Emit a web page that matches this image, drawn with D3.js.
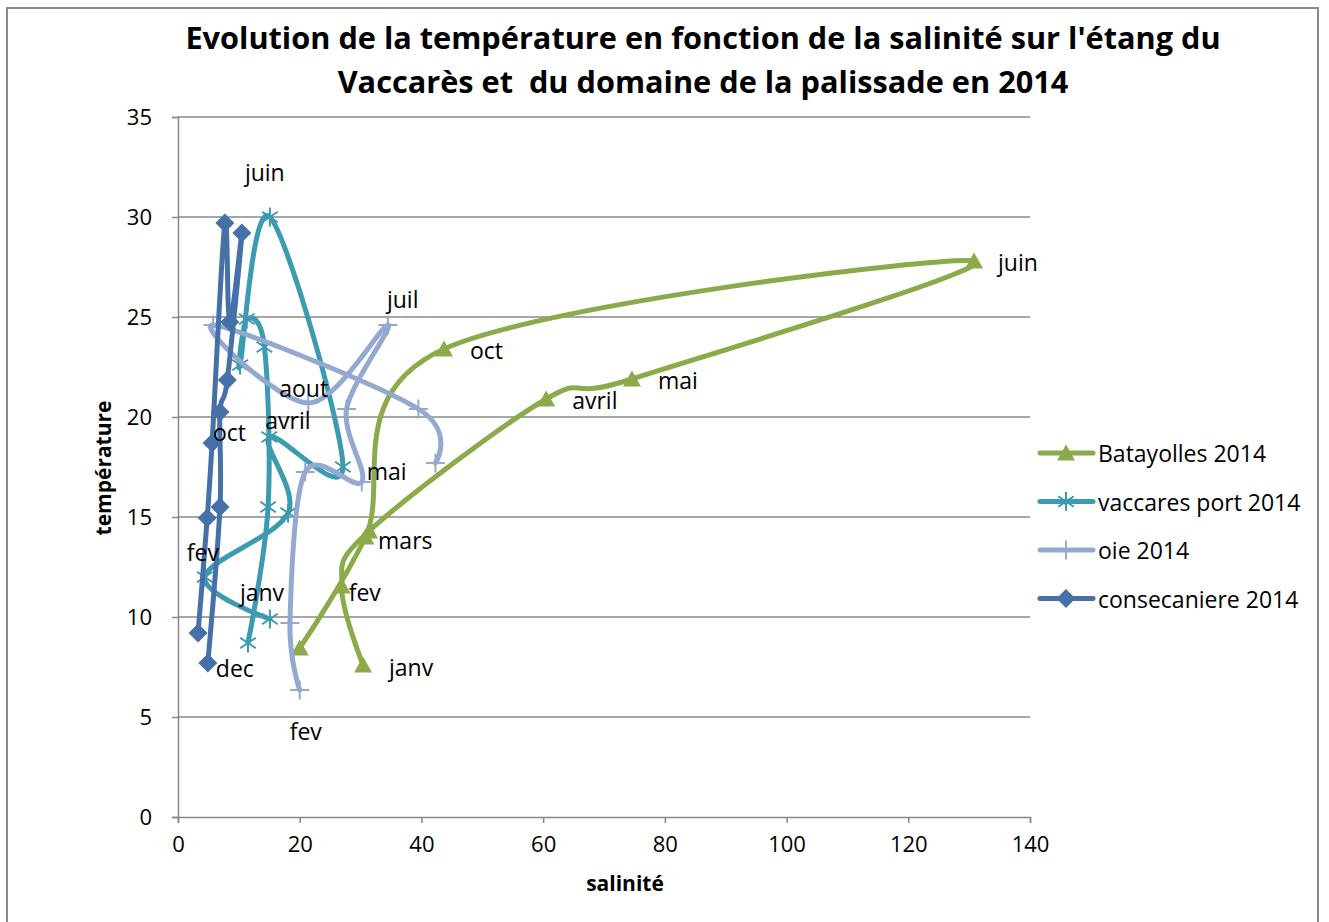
<!DOCTYPE html>
<html><head><meta charset="utf-8">
<script src="https://cdn.jsdelivr.net/npm/d3@7"></script>
<style>body{margin:0;background:#fff;}svg{display:block;font-family:"Open Sans",sans-serif;}</style>
</head><body>
<svg id="chart" width="1329" height="922"></svg>
<script>
// ---- data ----
const titleLines = ["Evolution de la température en fonction de la salinité sur l'étang du", "Vaccarès et  du domaine de la palissade en 2014"];
const xTicks = [0, 20, 40, 60, 80, 100, 120, 140];
const yTicks = [0, 5, 10, 15, 20, 25, 30, 35];
const xTitle = "salinité";
const yTitle = "température";
const seriesNames = ["Batayolles 2014", "vaccares port 2014", "oie 2014", "consecaniere 2014"];

const batMonths = ["janv","fev","mars","avril","mai","juin","oct","nov","dec"];
const batSal    = [30.4, 26.9, 31.4, 60.5, 74.6, 130.8, 43.7, 30.8, 20.0];
const batTemp   = [7.6, 11.55, 14.3, 20.9, 21.9, 27.8, 23.4, 14.0, 8.45];
const batLabels = ["janv","fev","mars","avril","mai","juin","oct","",""];

const vacMonths = ["janv","fev","mars","avril","mai","juin","juil","aout","sept","nov","dec"];
const vacSal    = [15.1, 4.4, 18.1, 15.0, 27.1, 15.1, 10.2, 11.3, 14.2, 14.8, 11.5];
const vacTemp   = [9.9, 12.0, 15.2, 19.0, 17.5, 30.0, 22.6, 24.9, 23.5, 15.5, 8.7];
const vacLabels = ["janv","fev","","avril","","juin","","","","",""];

const oieMonths = ["fev","mars","avril","mai","juin","juil","aout","sept","oct","nov"];
const oieSal    = [20.0, 18.4, 20.9, 30.2, 27.7, 34.5, 21.4, 5.75, 39.5, 42.3];
const oieTemp   = [6.35, 9.7, 17.25, 16.75, 20.4, 24.6, 20.7, 24.6, 20.4, 17.7];
const oieLabels = ["fev","","","mai","","juil","aout","","",""];

const conMonths = ["janv","fev","mars","avril","mai","juin","juil","oct","nov","dec"];
const conSal    = [3.3, 4.8, 5.6, 7.7, 8.5, 10.5, 8.1, 6.9, 6.9, 4.9];
const conTemp   = [9.2, 14.95, 18.7, 29.7, 24.75, 29.2, 21.85, 20.25, 15.5, 7.7];
const conLabels = ["","","","","","","","oct","","dec"];

// ---- styles (not data) ----
const colors = ["#8BAA4A", "#3C9AB1", "#94A9CF", "#4570A8"];
const markers = ["triangle", "asterisk", "plus", "diamond"];
// label offsets in pixels per series (by month)
const labelOffsets = [
  {janv:[26,2], fev:[7,6], mars:[9,9], avril:[26,1], mai:[26,1], juin:[24,1], oct:[26,1]},
  {janv:[-30,-27], fev:[-18,-25], avril:[-4,-17], juin:[-25,-45]},
  {fev:[-10,41], mai:[5,-11], juil:[-1,-26], aout:[-29,-15]},
  {oct:[-7,20], dec:[8,5]}
];

const series = [
  {name: seriesNames[0], sal: batSal, temp: batTemp, labels: batLabels, months: batMonths},
  {name: seriesNames[1], sal: vacSal, temp: vacTemp, labels: vacLabels, months: vacMonths},
  {name: seriesNames[2], sal: oieSal, temp: oieTemp, labels: oieLabels, months: oieMonths},
  {name: seriesNames[3], sal: conSal, temp: conTemp, labels: conLabels, months: conMonths}
];

const svg = d3.select("#chart");
const plot = {left: 178, right: 1030, top: 117, bottom: 817};
const x = d3.scaleLinear().domain([0, 140]).range([plot.left, plot.right]);
const y = d3.scaleLinear().domain([0, 35]).range([plot.bottom, plot.top]);

// outer border
svg.append("rect").attr("x", 7).attr("y", 8).attr("width", 1311).attr("height", 940)
  .attr("fill", "#fff").attr("stroke", "#8a8a8a").attr("stroke-width", 2);

// title
svg.append("g").selectAll("text").data(titleLines).join("text")
  .attr("x", 703).attr("y", (d, i) => 37 + i * 44)
  .attr("text-anchor", "middle").attr("dominant-baseline", "central")
  .attr("font-weight", "bold").attr("font-size", 30.7).attr("fill", "#000")
  .style("white-space", "pre")
  .text(d => d);

// gridlines
svg.append("g").selectAll("line").data(yTicks.filter(v => v > 0)).join("line")
  .attr("x1", plot.left).attr("x2", plot.right)
  .attr("y1", d => y(d)).attr("y2", d => y(d))
  .attr("stroke", "#888").attr("stroke-width", 1.5);

// axes
const gx = svg.append("g").attr("transform", `translate(0,${plot.bottom})`)
  .call(d3.axisBottom(x).tickValues(xTicks).tickSize(6).tickPadding(9).tickFormat(d3.format("d")));
const gy = svg.append("g").attr("transform", `translate(${plot.left},0)`)
  .call(d3.axisLeft(y).tickValues(yTicks).tickSize(6).tickPadding(20).tickFormat(d3.format("d")));
[gx, gy].forEach(g => {
  g.select(".domain").attr("stroke", "#888").attr("stroke-width", 1.5);
  g.selectAll(".tick line").attr("stroke", "#888").attr("stroke-width", 1.5);
  g.selectAll(".tick text").attr("font-size", 22).attr("fill", "#000").attr("font-family", "Open Sans");
});
gx.selectAll(".tick text").attr("dy", "0.9em");
gy.selectAll(".tick text").attr("dy", "0.35em");

// axis titles
svg.append("text").attr("x", 625).attr("y", 883).attr("text-anchor", "middle")
  .attr("dominant-baseline", "central").attr("font-weight", "bold").attr("font-size", 21).text(xTitle);
svg.append("text").attr("transform", "translate(103,468) rotate(-90)").attr("text-anchor", "middle")
  .attr("dominant-baseline", "central").attr("font-weight", "bold").attr("font-size", 21).text(yTitle);

function drawMarker(g, type, cx, cy, color) {
  if (type === "triangle") {
    g.append("path").attr("d", `M${cx},${cy-8.5}L${cx+9},${cy+7.5}L${cx-9},${cy+7.5}Z`).attr("fill", color);
  } else if (type === "diamond") {
    g.append("path").attr("d", `M${cx},${cy-9.5}L${cx+9.5},${cy}L${cx},${cy+9.5}L${cx-9.5},${cy}Z`).attr("fill", color);
  } else if (type === "asterisk") {
    const r = 9.5, a = r * 0.82, b = r * 0.55;
    g.append("path").attr("d", `M${cx},${cy-r}L${cx},${cy+r}M${cx-a},${cy-b}L${cx+a},${cy+b}M${cx-a},${cy+b}L${cx+a},${cy-b}`)
      .attr("stroke", color).attr("stroke-width", 2).attr("fill", "none");
  } else if (type === "plus") {
    const r = 9.5;
    g.append("path").attr("d", `M${cx},${cy-r}L${cx},${cy+r}M${cx-r},${cy}L${cx+r},${cy}`)
      .attr("stroke", color).attr("stroke-width", 2).attr("fill", "none");
  }
}

const line = d3.line().x(d => x(d[0])).y(d => y(d[1])).curve(d3.curveCardinal.tension(0));

series.forEach((s, si) => {
  const pts = s.sal.map((v, i) => [v, s.temp[i]]);
  const g = svg.append("g");
  g.append("path").datum(pts).attr("d", line).attr("fill", "none")
    .attr("stroke", colors[si]).attr("stroke-width", 5)
    .attr("stroke-linecap", "round").attr("stroke-linejoin", "round");
  pts.forEach(p => drawMarker(g, markers[si], x(p[0]), y(p[1]), colors[si]));
});

// data labels
series.forEach((s, si) => {
  s.labels.forEach((lab, i) => {
    if (!lab) return;
    const off = labelOffsets[si][lab] || [8, 0];
    svg.append("text").attr("x", x(s.sal[i]) + off[0]).attr("y", y(s.temp[i]) + off[1])
      .attr("dominant-baseline", "central").attr("font-size", 23).attr("fill", "#000").text(lab);
  });
});

// legend
const leg = svg.append("g");
series.forEach((s, si) => {
  const ly = 453 + si * 48.5;
  leg.append("line").attr("x1", 1040).attr("x2", 1093).attr("y1", ly).attr("y2", ly)
    .attr("stroke", colors[si]).attr("stroke-width", 5).attr("stroke-linecap", "round");
  drawMarker(leg, markers[si], 1066, ly, colors[si]);
  leg.append("text").attr("x", 1098).attr("y", ly).attr("dominant-baseline", "central")
    .attr("font-size", 23).attr("fill", "#000").text(s.name);
});
</script>
</body></html>
